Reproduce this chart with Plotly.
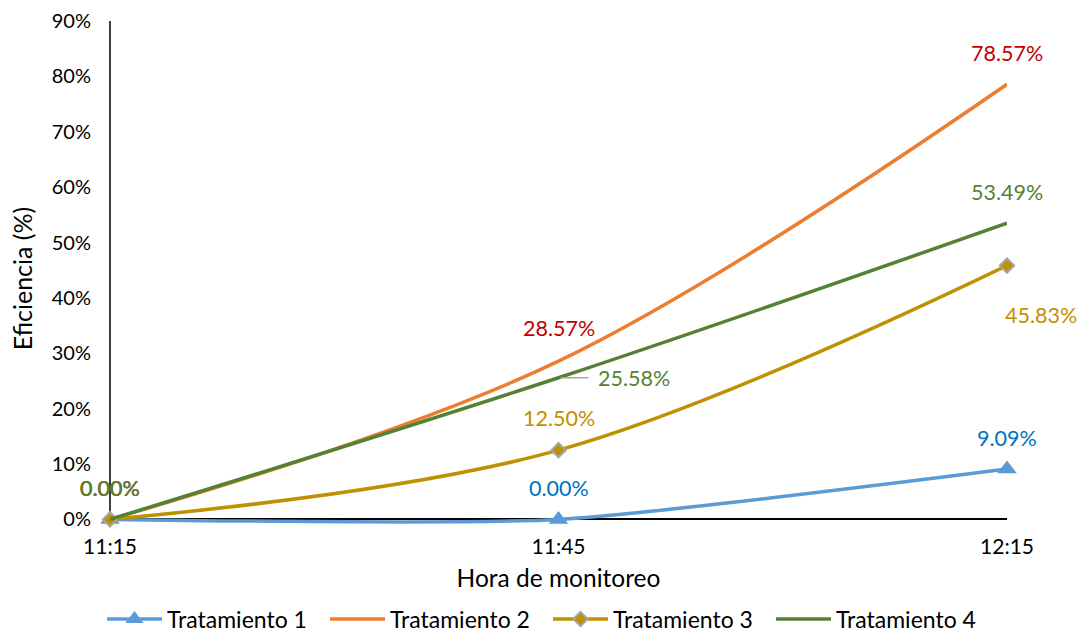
import plotly.graph_objects as go

# Monitoring times and efficiency (%) for each treatment
horas = ["11:15", "11:45", "12:15"]
tratamiento_1 = [0.00, 0.00, 9.09]
tratamiento_2 = [0.00, 28.57, 78.57]
tratamiento_3 = [0.00, 12.50, 45.83]
tratamiento_4 = [0.00, 25.58, 53.49]
nombres = ["Tratamiento 1", "Tratamiento 2", "Tratamiento 3", "Tratamiento 4"]
y_ticks = [0, 10, 20, 30, 40, 50, 60, 70, 80, 90]

FONT = "Lato"
x_pos = list(range(len(horas)))
series = [tratamiento_1, tratamiento_2, tratamiento_3, tratamiento_4]

line_colors = ["#5B9BD5", "#ED7D31", "#BF9000", "#548235"]
label_colors = ["#0070C0", "#C00000", "#BF9000", "#548235"]
smoothing = [0.6, 1.0, 1.0, 1.0]
markers = [
    dict(symbol="triangle-up", size=17, color="#5B9BD5", line=dict(width=0)),
    None,
    dict(symbol="diamond", size=11, color="#BF9000", line=dict(width=2, color="#A5A5A5")),
    None,
]

# label offsets in pixels (dx right, dy up) per series and point
label_offsets = [
    [(0, 31), (0, 31), (0, 31)],
    [(0, 31), (0, 33), (0, 31)],
    [(0, 31), (0, 32), (34, -49)],
    [(0, 31), (75, 0), (0, 31)],
]

fig = go.Figure()
for name, vals, lc, mk, sm in zip(nombres, series, line_colors, markers, smoothing):
    fig.add_trace(go.Scatter(
        x=x_pos, y=vals, name=name,
        mode="lines+markers" if mk else "lines",
        line=dict(color=lc, width=3.5, shape="spline", smoothing=sm),
        marker=mk if mk else None,
        cliponaxis=False,
    ))

annotations = []
for vals, col, offs in zip(series, label_colors, label_offsets):
    for xi, v, (dx, dy) in zip(x_pos, vals, offs):
        annotations.append(dict(
            x=xi, y=v, xref="x", yref="y", text=f"{v:.2f}%",
            showarrow=False, xshift=dx, yshift=dy,
            font=dict(family=FONT, size=21.5, color=col),
        ))

# vertical axis line from 0% to 90%, plus leader lines for displaced labels
leader = dict(color="#A6A6A6", width=1.5)
shapes = [
    dict(type="line", xref="x domain", yref="y", x0=0, x1=0, y0=0, y1=y_ticks[-1],
         line=dict(color="#000000", width=1.5), layer="below"),
    dict(type="line", xref="x", yref="y", xsizemode="pixel", ysizemode="pixel",
         xanchor=x_pos[1], yanchor=tratamiento_4[1], x0=2, y0=0, x1=30, y1=0, line=leader),
    dict(type="line", xref="x", yref="y", xsizemode="pixel", ysizemode="pixel",
         xanchor=x_pos[2], yanchor=tratamiento_3[2], x0=1, y0=-3, x1=33, y1=-28, line=leader),
]

fig.update_layout(
    width=1083, height=634,
    margin=dict(l=110, r=76, t=21, b=98.4, autoexpand=False),
    paper_bgcolor="white", plot_bgcolor="white",
    font=dict(family=FONT, size=20, color="#000000"),
    showlegend=True,
    legend=dict(orientation="h", xref="container", yref="container",
                x=0.506, xanchor="center", y=1 - 619 / 634, yanchor="middle",
                font=dict(family=FONT, size=23, color="#000000"),
                traceorder="normal", itemwidth=55, entrywidth=153),
    annotations=annotations,
    shapes=shapes,
)
fig.update_xaxes(
    range=[0, 2], tickvals=x_pos, ticktext=horas,
    showgrid=False, zeroline=False, showline=False, automargin=True,
    ticks="", ticklabelstandoff=-4,
    tickfont=dict(family=FONT, size=21),
    title=dict(text="Hora de monitoreo", font=dict(family=FONT, size=24.5), standoff=12),
)
fig.update_yaxes(
    range=[-3, 90], tickvals=y_ticks, ticktext=[f"{t}%" for t in y_ticks],
    showgrid=False, showline=False, automargin=True, layer="below traces",
    zeroline=True, zerolinecolor="#000000", zerolinewidth=1.5,
    ticks="", ticklabelstandoff=18,
    tickfont=dict(family=FONT, size=20),
    title=dict(text="Eficiencia (%)", font=dict(family=FONT, size=25), standoff=12),
)

fig.write_html("out.html")
